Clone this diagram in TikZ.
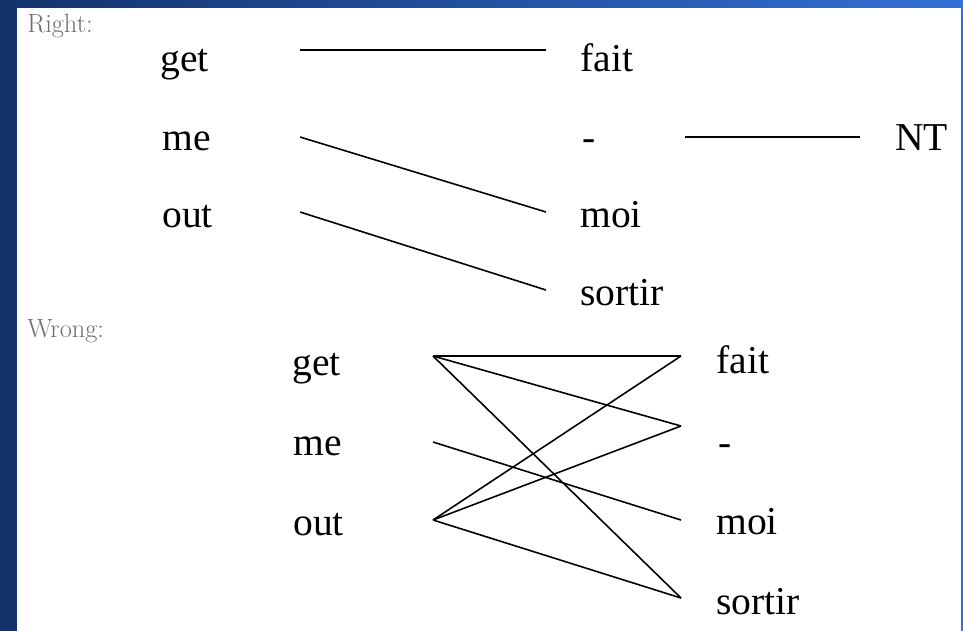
\documentclass[tikz,border=0pt]{standalone}
\usepackage{fontspec}
\usetikzlibrary{positioning}
\newfontfamily\wordfont{Liberation Serif}
\definecolor{SlideNavy}{RGB}{18,51,106}
\definecolor{SlideBlue}{RGB}{52,112,214}
\definecolor{TagGray}{RGB}{110,110,110}
\tikzset{
  word/.style={anchor=base west,inner sep=0pt,font=\wordfont\fontsize{22.5}{26}\selectfont},
  tag/.style={anchor=base west,inner sep=0pt,text=TagGray,font=\fontsize{15}{17}\selectfont},
  link/.style={line width=0.9pt,black}
}

\begin{document}
\begin{tikzpicture}[x=0.02cm,y=-0.02cm]
\useasboundingbox (0,0) rectangle (963,630);
\shade[left color=SlideNavy,right color=SlideBlue] (0,0) rectangle (963,630);
\fill[white] (17,8) rectangle (961,634);
% right alignment
\node[tag] (right) at (27,32){Right:};
\node[word] (rget) at (160,71){get};
\node[word] (rme) at (162,150){me};
\node[word] (rout) at (162,227){out};
\node[word] (rfait) at (580,71){fait};
\node[word] (rdash) at (582,150){-};
\node[word] (rmoi) at (580,227){moi};
\node[word] (rsortir) at (580,305){sortir};
\node[word] (nt) at (895,150){NT};
\coordinate (rgetR) at (300,50);\coordinate (rmeR) at (300,137);\coordinate (routR) at (300,212);
\coordinate (rfaitL) at (546,50);\coordinate (rmoiL) at (546,212);\coordinate (rsortirL) at (546,290);
\coordinate (rdashR) at (685,137);\coordinate (ntL) at (860,137);
\draw[link] (rgetR)--(rfaitL);
\draw[link] (rmeR)--(rmoiL);
\draw[link] (routR)--(rsortirL);
\draw[link] (rdashR)--(ntL);
% wrong alignment
\node[tag] (wrong) at (27,337){Wrong:};
\node[word] (wget) at (292,375){get};
\node[word] (wme) at (293,455){me};
\node[word] (wout) at (293,535){out};
\node[word] (wfait) at (716,373){fait};
\node[word] (wdash) at (718,455){-};
\node[word] (wmoi) at (716,534){moi};
\node[word] (wsortir) at (716,614){sortir};
\coordinate (wgetR) at (433,356);\coordinate (wmeR) at (433,442);\coordinate (woutR) at (433,520);
\coordinate (wfaitL) at (681,356);\coordinate (wdashL) at (681,426);\coordinate (wmoiL) at (681,520);\coordinate (wsortirL) at (681,598);
\draw[link] (wgetR)--(wfaitL);\draw[link] (wgetR)--(wdashL);\draw[link] (wgetR)--(wsortirL);
\draw[link] (wmeR)--(wmoiL);
\draw[link] (woutR)--(wfaitL);\draw[link] (woutR)--(wdashL);\draw[link] (woutR)--(wsortirL);
\end{tikzpicture}
\end{document}
